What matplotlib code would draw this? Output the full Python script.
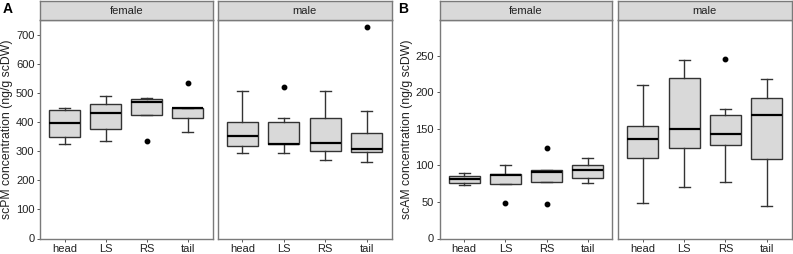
import matplotlib
matplotlib.use("Agg")
from matplotlib import pyplot as plt

plt.rcParams['font.family'] = ['Liberation Sans', 'DejaVu Sans']

# Data (box stats per region)
regions = ["head", "LS", "RS", "tail"]
sexes = ["female", "male"]

# scPM, female
pm_f_lo = [323, 335, 425, 365]
pm_f_q1 = [347, 376, 425, 412]
pm_f_med = [397, 431, 470, 447]
pm_f_q3 = [440, 462, 480, 447]
pm_f_hi = [447, 489, 481, 447]
pm_f_out = [[], [], [334], [534]]
# scPM, male
pm_m_lo = [293, 293, 271, 263]
pm_m_q1 = [317, 324, 300, 298]
pm_m_med = [351, 326, 329, 307]
pm_m_q3 = [399, 399, 415, 363]
pm_m_hi = [506, 412, 506, 437]
pm_m_out = [[], [519], [], [727]]

# scAM, female
am_f_lo = [72.7, 74.5, 77.2, 75.8]
am_f_q1 = [76.4, 74.5, 77.2, 82.2]
am_f_med = [81.3, 87.3, 91.4, 93.2]
am_f_q3 = [86.0, 88.6, 93.6, 100.4]
am_f_hi = [89.5, 101.0, 93.6, 110.5]
am_f_out = [[], [48.2], [47.3, 124.5], []]
# scAM, male
am_m_lo = [48.6, 71.0, 78.0, 44.5]
am_m_q1 = [109.5, 124.0, 128.6, 108.2]
am_m_med = [135.9, 150.0, 142.7, 168.6]
am_m_q3 = [154.0, 220.0, 168.6, 191.8]
am_m_hi = [210.5, 244.0, 176.8, 217.7]
am_m_out = [[], [], [246.0], []]

W, H = 793, 254
fig = plt.figure(figsize=(W / 100, H / 100), dpi=100)

BORDER = "#7a7a7a"
FILL = "#d9d9d9"
TXT = "#222222"


def px_axes(x0, y0, x1, y1):
    """add axes from pixel box (top-left origin)"""
    return fig.add_axes([x0 / W, 1 - y1 / H, (x1 - x0) / W, (y1 - y0) / H])


def make_stats(lo, q1, med, q3, hi, out):
    stats = []
    for i in range(len(lo)):
        stats.append(dict(whislo=lo[i], q1=q1[i], med=med[i], q3=q3[i],
                          whishi=hi[i], fliers=out[i]))
    return stats


def panel(x0, x1, title, stats, ylim, yticks, show_y):
    ax = px_axes(x0, 20, x1, 238.5)
    ax.bxp(stats, positions=range(1, 5), widths=0.75, patch_artist=True,
           boxprops=dict(facecolor=FILL, edgecolor="#333333", linewidth=1.0),
           medianprops=dict(color="black", linewidth=1.6),
           whiskerprops=dict(color="#333333", linewidth=1.0),
           capprops=dict(color="#333333", linewidth=1.0),
           capwidths=0.27,
           flierprops=dict(marker="o", markersize=3.2, markerfacecolor="black",
                           markeredgecolor="black"))
    ax.set_xlim(0.4, 4.6)
    ax.set_ylim(*ylim)
    ax.set_xticks(range(1, 5))
    ax.set_xticklabels(regions, fontsize=8, color=TXT)
    ax.set_yticks(yticks)
    ax.tick_params(axis="both", length=2.5, width=0.7, color="#555555", pad=1.5)
    if show_y:
        ax.set_yticklabels([str(t) for t in yticks], fontsize=8, color=TXT)
    else:
        ax.tick_params(axis="y", left=False, labelleft=False)
    for s in ax.spines.values():
        s.set_color(BORDER)
        s.set_linewidth(1.0)
    ax.set_facecolor("white")
    # strip on top
    st = px_axes(x0, 1, x1, 20)
    st.set_facecolor(FILL)
    st.set_xticks([])
    st.set_yticks([])
    for s in st.spines.values():
        s.set_color(BORDER)
        s.set_linewidth(1.0)
    st.text(0.5, 0.45, title, ha="center", va="center", fontsize=8,
            color=TXT, transform=st.transAxes)
    return ax


# Panel A: scPM
axA = panel(40, 212.5, "female", make_stats(pm_f_lo, pm_f_q1, pm_f_med, pm_f_q3, pm_f_hi, pm_f_out),
            (0, 750), [0, 100, 200, 300, 400, 500, 600, 700], True)
panel(217.5, 391.5, "male", make_stats(pm_m_lo, pm_m_q1, pm_m_med, pm_m_q3, pm_m_hi, pm_m_out),
      (0, 750), [0, 100, 200, 300, 400, 500, 600, 700], False)
axA.set_ylabel("scPM concentration (ng/g scDW)", fontsize=8.8, color=TXT, labelpad=2)

# Panel B: scAM
axB = panel(439.5, 612.5, "female", make_stats(am_f_lo, am_f_q1, am_f_med, am_f_q3, am_f_hi, am_f_out),
            (0, 299), [0, 50, 100, 150, 200, 250], True)
panel(618, 791.5, "male", make_stats(am_m_lo, am_m_q1, am_m_med, am_m_q3, am_m_hi, am_m_out),
      (0, 299), [0, 50, 100, 150, 200, 250], False)
axB.set_ylabel("scAM concentration (ng/g scDW)", fontsize=8.8, color=TXT, labelpad=2)

fig.text(3 / W, 1 - 9 / H, "A", fontsize=10, fontweight="bold", va="center", ha="left")
fig.text(398 / W, 1 - 9 / H, "B", fontsize=10, fontweight="bold", va="center", ha="left")

fig.savefig("out.png", dpi=100)
